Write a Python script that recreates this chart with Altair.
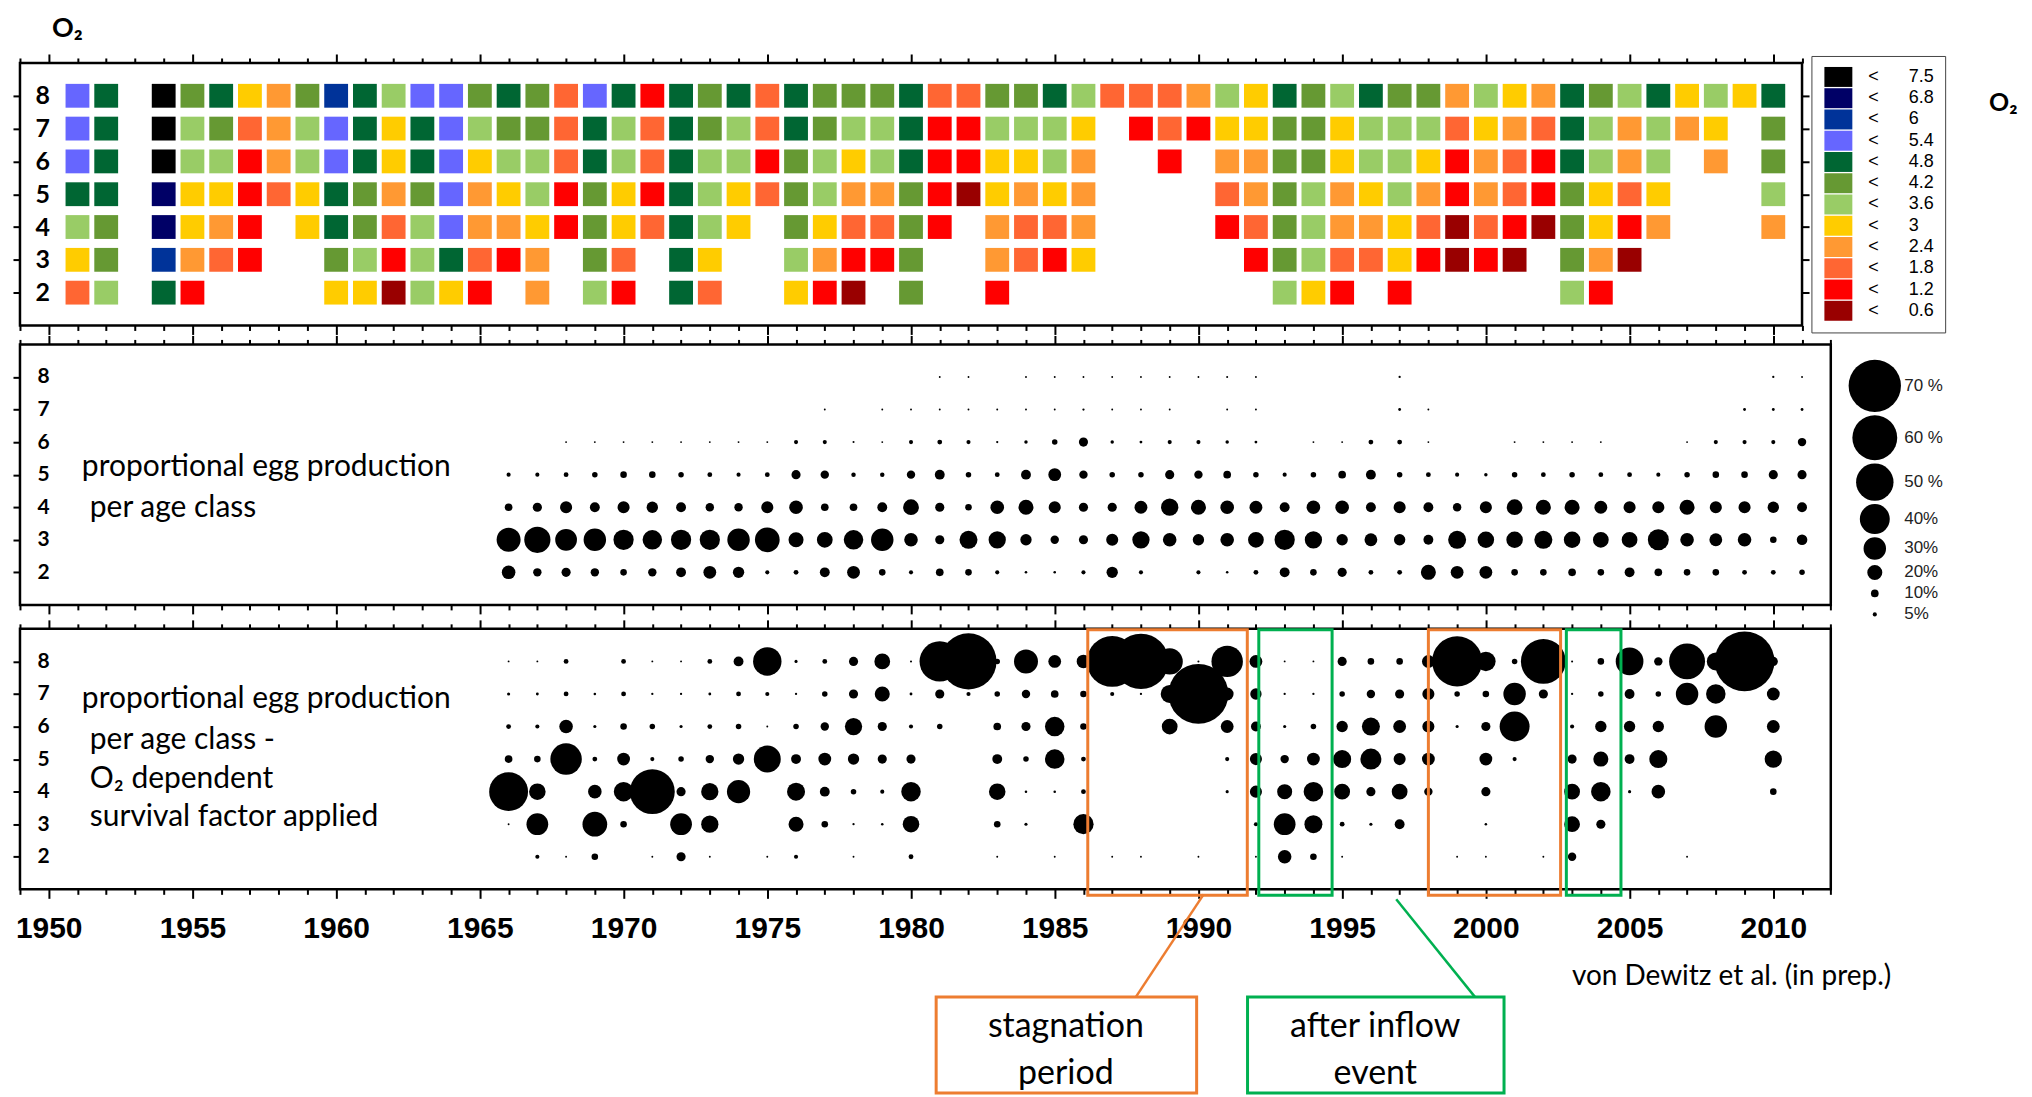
import altair as alt
import pandas as pd

# ---------------- data ----------------
# O2 classes (upper bounds, mg/l) and their colours
O2_CLASSES = ["7.5", "6.8", "6", "5.4", "4.8", "4.2", "3.6", "3", "2.4", "1.8", "1.2", "0.6"]
O2_COLORS = ["#000000", "#000066", "#003399", "#6666FF", "#006633", "#669933",
             "#99CC66", "#FFCC00", "#FF9933", "#FF6633", "#FF0000", "#990000"]
O2_CODE = {"K": "7.5", "N": "6.8", "B": "6", "P": "5.4", "D": "4.8", "O": "4.2",
           "L": "3.6", "Y": "3", "A": "2.4", "S": "1.8", "R": "1.2", "M": "0.6"}
O2_FIRST_YEAR = 1951
# one character per year 1951..2010 ('.' = no data)
O2_AGE8 = "PD.KODYAOB" "DLPPODOSPD" "RDODSDOOOD" "SSOODLSSSA" "LYDOLDOOAL" "YADOLDYLYD"
O2_AGE7 = "PD.KLOSALP" "DYDPLOOSDL" "SDOLSDOLLD" "RRLLLY.RSR" "YYOOYLLLSY" "ASDLALAY.O"
O2_AGE6 = "PD.KLLRALP" "DYDPYLLSDL" "SDLLROLYLD" "RRYYLA..R." "AAOOYLLYRA" "SRDLAL.A.O"
O2_AGE5 = "DD.NYYRSYD" "OAOPAYLROY" "RDLYSOLAAO" "RMYAYA...." "SAOLAYLARA" "SROYSY...L"
O2_AGE4 = "LO.NYAR.YD" "OSLPAAYROY" "SDLY.OYSSO" "R.ASSA...." "RSOLAAYSMS" "RMOYRA...A"
O2_AGE3 = "YO.BASR..O" "LRLDSRA.OS" ".DY..LARRO" "..ASRY...." ".ROLSSYRMR" "M.OAM....."
O2_AGE2 = "SL.DR....Y" "YMLYR.A.LR" ".DS..YRM.O" "..R......." "..LYR.R..." "..LR......"

# proportional egg production per age class (%), years 1966..2011
MID_FIRST_YEAR = 1966
MID_A8 = [0, 0, 0, 0, 0, 0, 0, 0, 0, 0, 0, 0, 0, 0, 0, 1, 1, 0, 1, 1,
          1, 1, 1, 1, 1, 1.5, 1, 0, 0, 0, 0, 2, 0, 0, 0, 0, 0, 0, 0, 0,
          0, 0, 0, 0, 2, 1]
MID_A7 = [0, 0, 0, 0, 0, 0, 0, 0, 0, 0, 0, 1, 0, 1, 1, 1, 1, 1, 1, 1,
          2, 1, 1, 1, 0, 1, 1, 0, 0, 0, 0, 3, 1, 0, 0, 0, 0, 0, 0, 0,
          0, 0, 0, 3, 3, 3]
MID_A6 = [0, 0, 1, 1, 1, 1, 1, 1, 1, 1, 5, 5, 1.5, 1, 5, 6, 5, 2, 4, 7,
          12, 4, 3, 5, 5, 4, 3, 0, 1, 1, 6, 6, 1, 0, 0, 1, 1, 1, 1, 0,
          0, 1, 5, 5, 5, 11]
MID_A5 = [5, 5, 6, 7, 8.5, 8.5, 7, 6, 5, 6, 12, 11, 5.5, 5.5, 11, 13, 7, 6, 13, 17,
          11, 7, 7, 12, 11, 10, 7, 5, 7, 10, 13, 7, 6, 5, 4, 7, 6, 7, 6, 6,
          5, 7, 8.5, 8.5, 12, 12]
MID_A4 = [10, 12, 16, 13, 16, 15, 13, 11, 11, 16, 18, 10, 10, 13, 21, 12, 8.5, 18, 20, 16,
          12, 12, 17, 23, 20, 18, 17, 13, 18, 18, 13, 16, 13, 11, 16, 21, 20, 20, 17, 16,
          16, 20, 16, 16, 15, 13]
MID_A3 = [32, 35, 29, 30, 27, 26, 27, 27, 30, 33, 20, 21, 26, 30, 18, 12, 24, 23, 15, 11,
          12, 16, 23, 18, 15, 18, 21, 27, 23, 15, 17, 15, 13, 24, 22, 22, 24, 22, 21, 21,
          28, 18, 17, 18, 8.5, 14]
MID_A2 = [18, 11, 12, 11, 8.5, 11, 13, 17, 15, 5, 6, 13, 17, 8.5, 5, 10, 8.5, 5, 2.5, 2.5,
          5, 15, 5, 0, 5, 2.5, 6, 13, 8.5, 12, 6, 6, 20, 17, 17, 8.5, 8.5, 10, 8.5, 13,
          10, 8.5, 8.5, 6, 6, 7]

# O2 dependent survival factor applied (%), years 1966..2010
BOT_FIRST_YEAR = 1966
BOT_A8 = [1, 1, 6, 0, 6, 1, 1, 6, 13, 38, 3.5, 6, 12, 21, 1.5, 54, 75, 7, 32, 17,
          18, 68, 74, 35, 1.5, 42, 17, 1, 1, 12, 8.5, 8.5, 17, 67, 26, 7, 60, 1.5, 8.5, 37,
          11, 48, 24, 80, 12]
BOT_A7 = [3.5, 3, 6, 2.5, 6, 2, 2, 3, 6, 5, 2, 7, 12, 20, 3, 12, 5, 7, 11, 10,
          8.5, 5, 2, 24, 80, 17, 15, 2, 2, 7, 11, 12, 16, 7, 8.5, 30, 12, 2, 7, 13,
          7, 30, 26, 0, 17]
BOT_A6 = [6, 5, 18, 3.5, 8.5, 7, 3.5, 6, 7, 1, 7, 11, 23, 12, 5, 7, 0, 10, 12, 26,
          8.5, 0, 0, 21, 0, 17, 13, 3.5, 7, 15, 24, 17, 16, 3.5, 12, 40, 0, 5, 15, 15,
          15, 0, 30, 0, 17]
BOT_A5 = [10, 8.5, 42, 6, 17, 5, 7, 11, 15, 36, 13, 17, 15, 12, 12, 0, 0, 13, 7, 26,
          6, 0, 0, 0, 0, 5, 16, 11, 17, 24, 28, 16, 17, 0, 17, 5, 0, 12, 20, 13,
          24, 0, 0, 0, 23]
BOT_A4 = [52, 22, 0, 18, 26, 60, 12, 23, 31, 0, 24, 13, 7, 5, 26, 0, 0, 22, 2.5, 2.5,
          6, 0, 0, 0, 0, 3.5, 16, 20, 26, 21, 12, 21, 11, 0, 12, 0, 0, 21, 26, 3.5,
          18, 0, 0, 0, 8.5]
BOT_A3 = [1, 29, 0, 33, 8.5, 0, 29, 23, 0, 0, 20, 8.5, 2, 2.5, 22, 0, 0, 8.5, 3.5, 0,
          27, 0, 0, 0, 0, 0, 5, 29, 24, 6, 3.5, 13, 0, 0, 2.5, 0, 0, 21, 12, 0,
          0, 0, 0, 0, 0]
BOT_A2 = [0, 5, 1, 8.5, 0, 1, 12, 1, 0, 1, 5, 0, 1, 0, 6, 0, 0, 1, 0, 1,
          0, 1, 1, 0, 1, 0, 1, 18, 8.5, 1, 0, 0, 0, 1, 1, 0, 1, 11, 0, 0,
          0, 1, 0, 0, 0]

SIZE_LEGEND_VALUES = [70, 60, 50, 40, 30, 20, 10, 5]

# highlighted periods (years)
PERIOD_START = [1986.15, 1992.1, 1998.0, 2002.8]
PERIOD_END = [1991.7, 1994.65, 2002.6, 2004.7]
PERIOD_KIND = ["stagnation", "inflow", "stagnation", "inflow"]

ORANGE = "#ED7D31"
GREEN = "#00B050"

# ---------------- tables ----------------
heat_rows = []
for age, codes in [(8, O2_AGE8), (7, O2_AGE7), (6, O2_AGE6), (5, O2_AGE5),
                   (4, O2_AGE4), (3, O2_AGE3), (2, O2_AGE2)]:
    for i, c in enumerate(codes):
        if c != ".":
            heat_rows.append({"year": O2_FIRST_YEAR + i, "age": age, "cls": O2_CODE[c]})
heat_df = pd.DataFrame(heat_rows)


def bubbles(first, series):
    rows = []
    for age, vals in series:
        for i, v in enumerate(vals):
            if v > 0:
                rows.append({"year": first + i, "age": age, "pct": v})
    return pd.DataFrame(rows)


mid_df = bubbles(MID_FIRST_YEAR, [(8, MID_A8), (7, MID_A7), (6, MID_A6), (5, MID_A5),
                                  (4, MID_A4), (3, MID_A3), (2, MID_A2)])
bot_df = bubbles(BOT_FIRST_YEAR, [(8, BOT_A8), (7, BOT_A7), (6, BOT_A6), (5, BOT_A5),
                                  (4, BOT_A4), (3, BOT_A3), (2, BOT_A2)])
period_df = pd.DataFrame({"x1": PERIOD_START, "x2": PERIOD_END, "kind": PERIOD_KIND})

# ---------------- scales / axes ----------------
PX_PER_YEAR = 28.8
W_TOP = (2011 - 1949) * PX_PER_YEAR
W_LOW = (2012 - 1949) * PX_PER_YEAR
xs_top = alt.Scale(domain=[1949, 2011], nice=False, zero=False)
xs_low = alt.Scale(domain=[1949, 2012], nice=False, zero=False)
ys = alt.Scale(domain=[1, 9], nice=False, zero=False)
size_scale = alt.Scale(type="pow", exponent=2, domain=[0, 70], range=[3, 2750])

MAJOR = "datum.value % 5 === 0"
LABEL_FONT = "Lato, 'Open Sans', sans-serif"
NB = "\u00a0"


def xaxis(orient, last, labels=False):
    kw = dict(orient=orient, values=list(range(1949, last + 1)), domain=False, grid=False,
              title=None, tickColor="black", tickWidth=2,
              tickSize={"condition": {"test": MAJOR, "value": 9}, "value": 5},
              labels=labels)
    if labels:
        kw.update(labelExpr=MAJOR + " ? '' + datum.value : ''",
                  labelFont="'Liberation Sans Narrow', 'Liberation Sans', Arial, sans-serif",
                  labelFontWeight="bold", labelFontSize=30, labelColor="black",
                  labelBaseline="middle", labelPadding=30, labelOverlap=False,
                  labelFlush=False)
    return alt.Axis(**kw)


def yaxis_left(fs, pad):
    return alt.Axis(orient="left", values=[2, 3, 4, 5, 6, 7, 8], domain=False, grid=False,
                    title=None, tickColor="black", tickWidth=2, tickSize=7,
                    labelAlign="left", labelBaseline="middle", labelPadding=pad,
                    labelFont=LABEL_FONT, labelFontWeight="bold", labelFontSize=fs,
                    labelColor="black")


def yaxis_right(show_ticks=True):
    return alt.Axis(orient="right", values=[2, 3, 4, 5, 6, 7, 8], domain=False, grid=False,
                    title=None, labels=False, ticks=show_ticks, tickColor="black",
                    tickWidth=2, tickSize=7)


def text(t, x, y, size=30, weight="normal", align="left", font=LABEL_FONT):
    return alt.Chart(pd.DataFrame({"t": [t]})).mark_text(
        align=align, baseline="middle", font=font, fontSize=size, fontWeight=weight,
        color="black").encode(text="t:N", x=alt.value(x), y=alt.value(y))


# ---------------- top panel: O2 heat map ----------------
heat = alt.Chart(heat_df).mark_square(size=570, opacity=1, strokeWidth=0).encode(
    x=alt.X("year:Q", scale=xs_top, axis=xaxis("bottom", 2011)),
    y=alt.Y("age:Q", scale=ys, axis=yaxis_left(25, -22)),
    color=alt.Color("cls:N", scale=alt.Scale(domain=O2_CLASSES, range=O2_COLORS),
                    legend=alt.Legend(title=None, orient="none", legendX=1795, legendY=-7,
                                      direction="vertical", columns=1,
                                      symbolType="M-1.4,-1H1.4V1H-1.4Z", symbolSize=400,
                                      symbolStrokeWidth=0, rowPadding=1.3, symbolOffset=6,
                                      labelExpr="'<" + NB * 6 + "' + datum.label",
                                      labelFont="'Liberation Sans', Arial, sans-serif",
                                      labelFontSize=18, labelColor="black", labelOffset=20,
                                      labelLimit=300,
                                      strokeColor="#444", fillColor="white", padding=11)),
)
heat_ticks = alt.Chart(heat_df).mark_point(opacity=0).encode(
    x=alt.X("year:Q", scale=xs_top, axis=xaxis("top", 2011)),
    y=alt.Y("age:Q", scale=ys, axis=yaxis_right()),
)
top = alt.layer(
    heat, heat_ticks,
    text("O₂", 32, -34, size=27, weight="bold"),
    text("O₂", 1973, 40, size=25, weight="bold"),
).resolve_axis(x="independent", y="independent").properties(width=W_TOP, height=263)

# ---------------- middle panel ----------------
mid_b = alt.Chart(mid_df).mark_circle(opacity=1, color="black").encode(
    x=alt.X("year:Q", scale=xs_low, axis=xaxis("bottom", 2012)),
    y=alt.Y("age:Q", scale=ys, axis=yaxis_left(21, -24)),
    size=alt.Size("pct:Q", scale=size_scale,
                  legend=alt.Legend(title=None, orient="none", legendX=1832, legendY=15,
                                    direction="vertical", values=SIZE_LEGEND_VALUES,
                                    symbolFillColor="black", symbolStrokeWidth=0,
                                    symbolOpacity=1, rowPadding=3, labelOffset=3,
                                    labelExpr="datum.value >= 50 ? datum.value + ' %' : datum.value + '%'",
                                    labelFont="'Liberation Sans', Arial, sans-serif",
                                    labelFontSize=17, labelColor="#222")),
)
mid_ticks = alt.Chart(mid_df).mark_point(opacity=0).encode(
    x=alt.X("year:Q", scale=xs_low, axis=xaxis("top", 2012)),
    y=alt.Y("age:Q", scale=ys, axis=yaxis_right(False)),
)
mid = alt.layer(
    mid_b, mid_ticks,
    text("proportional egg production", 62, 123),
    text("per age class", 70, 164),
).resolve_axis(x="independent", y="independent").properties(width=W_LOW, height=261)

# ---------------- bottom panel ----------------
bot_b = alt.Chart(bot_df).mark_circle(opacity=1, color="black").encode(
    x=alt.X("year:Q", scale=xs_low, axis=xaxis("bottom", 2012, labels=True)),
    y=alt.Y("age:Q", scale=ys, axis=yaxis_left(21, -24)),
    size=alt.Size("pct:Q", scale=size_scale, legend=None),
)
bot_ticks = alt.Chart(bot_df).mark_point(opacity=0).encode(
    x=alt.X("year:Q", scale=xs_low, axis=xaxis("top", 2012)),
    y=alt.Y("age:Q", scale=ys, axis=yaxis_right(False)),
)
periods = alt.Chart(period_df).mark_rect(fillOpacity=0, strokeWidth=3).encode(
    x=alt.X("x1:Q", scale=xs_low, axis=None), x2="x2:Q",
    y=alt.value(1), y2=alt.value(267),
    stroke=alt.Stroke("kind:N", scale=alt.Scale(domain=["stagnation", "inflow"],
                                                range=[ORANGE, GREEN]), legend=None),
)
one = pd.DataFrame({"k": [0]})
box_orange = alt.Chart(one).mark_rect(fillOpacity=0, stroke=ORANGE, strokeWidth=3).encode(
    x=alt.value(918), x2=alt.value(1179), y=alt.value(369), y2=alt.value(465))
box_green = alt.Chart(one).mark_rect(fillOpacity=0, stroke=GREEN, strokeWidth=3).encode(
    x=alt.value(1230), x2=alt.value(1487), y=alt.value(369), y2=alt.value(465))
line_orange = alt.Chart(one).mark_rule(color=ORANGE, strokeWidth=2.5).encode(
    x=alt.value(1186), y=alt.value(266), x2=alt.value(1118), y2=alt.value(369))
line_green = alt.Chart(one).mark_rule(color=GREEN, strokeWidth=2.5).encode(
    x=alt.value(1379), y=alt.value(271), x2=alt.value(1458), y2=alt.value(369))

bot = alt.layer(
    bot_b, bot_ticks, periods, box_orange, box_green, line_orange, line_green,
    text("proportional egg production", 62, 70),
    text("per age class -", 70, 111),
    text("O₂ dependent", 70, 150),
    text("survival factor applied", 70, 189),
    text("stagnation", 1048, 399, size=34, align="center"),
    text("period", 1048, 446, size=34, align="center"),
    text("after inflow", 1358, 399, size=34, align="center"),
    text("event", 1358, 446, size=34, align="center"),
    text("von Dewitz et al. (in prep.)", 1715, 349, size=28, align="center"),
).resolve_axis(x="independent", y="independent").properties(width=W_LOW, height=261)

lower = alt.vconcat(mid, bot, spacing=24, bounds="flush").resolve_scale(
    size="independent", x="independent", y="independent").resolve_legend(size="independent")

chart = alt.vconcat(top, lower, spacing=19, bounds="flush").resolve_scale(
    color="independent", size="independent", x="independent", y="independent"
).properties(
    padding={"left": 2, "top": 4, "right": 5, "bottom": 0},
    background="white",
).configure_view(stroke="black", strokeWidth=2.5)

chart.save("out.html", embed_options={"renderer": "svg", "actions": False})
